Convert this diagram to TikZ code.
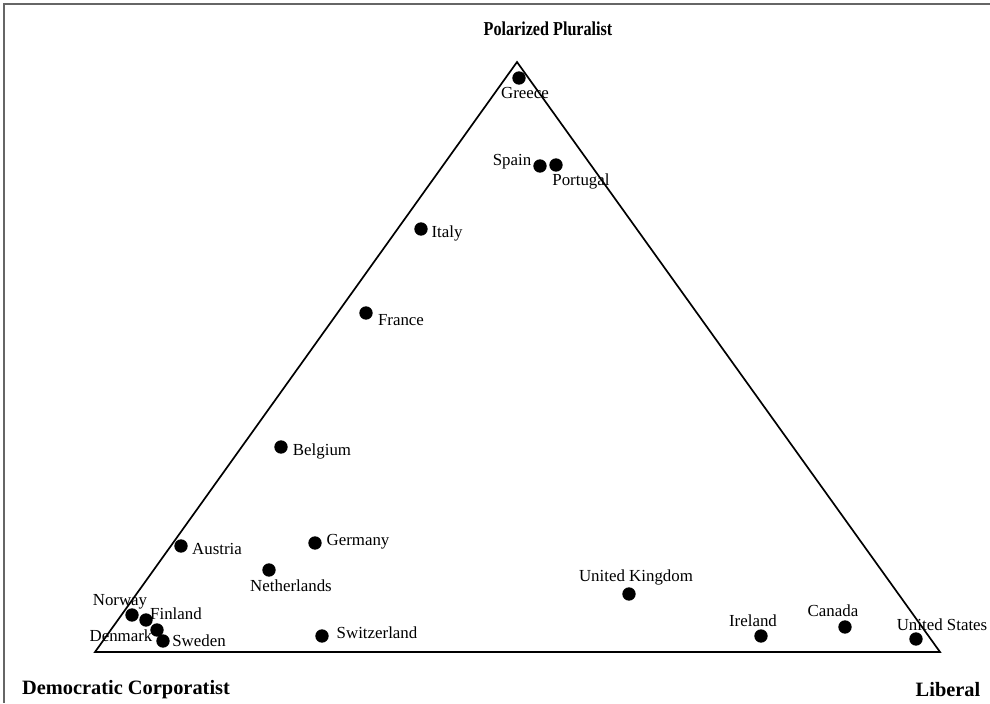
\documentclass[tikz,border=0pt]{standalone}
\usepackage{fontspec}
\setmainfont{Liberation Serif}
\tikzset{
  dot/.style={circle, fill=black, inner sep=0pt, minimum size=9.5pt},
  country/.style={inner sep=0pt, font=\fontsize{12}{14}\selectfont},
  corner/.style={inner sep=0pt, font=\bfseries\fontsize{14.5}{16}\selectfont}
}
\begin{document}
\begin{tikzpicture}[x=0.025cm, y=-0.025cm]
			\useasboundingbox (0,0) rectangle (990,703);
			% frame
			\draw [color=gray!80!black, line width=1.4pt] (990,4) -- (4,4) -- (4,703);
			% triangle
			\coordinate (pp) at (517,62);
			\coordinate (dc) at (95,652);
			\coordinate (lib) at (940,652);
			\draw [line width=1.2pt, line join=miter] (pp) -- (dc) -- (lib) -- cycle;
			\node [corner, xscale=0.82, font=\bfseries\fontsize{14}{16}\selectfont] (pptext) at (548,29) {Polarized Pluralist};
			\node [corner] (dctext) at (126,690) {Democratic Corporatist};
			\node [corner] (libtext) at (948,690) {Liberal};
			% countries
			\node [dot] (greece) at (519,78) {};
			\node [country] (greecet) at (525,93) {Greece};
			\node [dot] (spain) at (540,166) {};
			\node [country] (spaint) at (512,162) {Spain};
			\node [dot] (portugal) at (556,165) {};
			\node [country] (portugalt) at (581,181) {Portugal};
			\node [dot] (italy) at (421,229) {};
			\node [country] (italyt) at (447,233) {Italy};
			\node [dot] (france) at (366,313) {};
			\node [country] (francet) at (401,320) {France};
			\node [dot] (belgium) at (281,447) {};
			\node [country] (belgiumt) at (322,451) {Belgium};
			\node [dot] (austria) at (181,546) {};
			\node [country] (austriat) at (217,549) {Austria};
			\node [dot] (germany) at (315,543) {};
			\node [country] (germanyt) at (358,542) {Germany};
			\node [dot] (netherlands) at (269,570) {};
			\node [country] (netherlandst) at (291,586) {Netherlands};
			\node [dot] (uk) at (629,594) {};
			\node [country] (ukt) at (636,577) {United Kingdom};
			\node [dot] (norway) at (132,615) {};
			\node [country] (norwayt) at (120,602) {Norway};
			\node [dot] (finland) at (146,620) {};
			\node [country] (finlandt) at (176,614) {Finland};
			\node [dot] (denmark) at (157,630) {};
			\node [country] (denmarkt) at (121,636) {Denmark};
			\node [dot] (sweden) at (163,641) {};
			\node [country] (swedent) at (199,641) {Sweden};
			\node [dot] (switzerland) at (322,636) {};
			\node [country] (switzerlandt) at (377,633) {Switzerland};
			\node [dot] (ireland) at (761,636) {};
			\node [country] (irelandt) at (753,621) {Ireland};
			\node [dot] (canada) at (845,627) {};
			\node [country] (canadat) at (833,611) {Canada};
			\node [dot] (us) at (916,639) {};
			\node [country] (ust) at (942,625) {United States};
		\end{tikzpicture}
\end{document}
